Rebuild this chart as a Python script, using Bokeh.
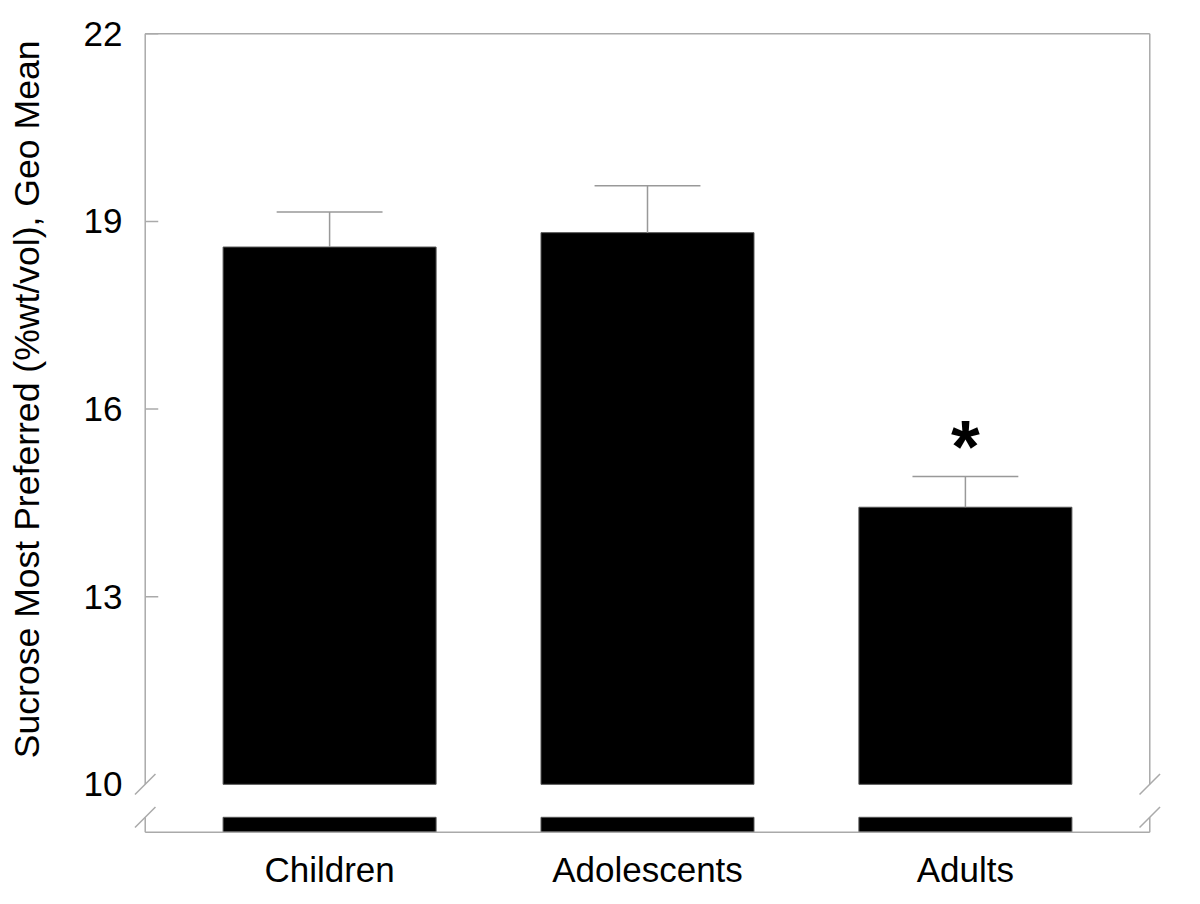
import math
from bokeh.plotting import figure
from bokeh.models import Range1d, FixedTicker, ColumnDataSource, Title
from bokeh.core.properties import value
from bokeh.embed import file_html
from bokeh.resources import INLINE

# ---- data ----
CATEGORIES = ["Children", "Adolescents", "Adults"]
MEANS = [18.59, 18.82, 14.43]
ERR_TOP = [19.15, 19.57, 14.92]
SIGNIF = ["", "", "*"]
Y_TICKS = [10, 13, 16, 19, 22]
Y_LABEL = "Sucrose Most Preferred (%wt/vol), Geo Mean"

# ---- axis geometry (broken axis) ----
X_LEFT, X_RIGHT = 0.42, 3.58
Y_BREAK = 10.0           # upper part starts here
Y_STUB_TOP = 9.473       # lower stub top
Y_BOTTOM = 9.233         # bottom axis line
Y_TOP = 22.0
BAR_W = 0.67
CAP_W = 0.333
TICK_LEN = 0.041

FONT = "Liberation Sans"
FRAME_COL = "#aaaaaa"

xs = list(range(1, len(CATEGORIES) + 1))

p = figure(width=1184, height=892, output_backend="svg", toolbar_location=None,
           x_range=Range1d(0.38, 3.62), y_range=Range1d(9.15, 22.1),
           frame_width=1030, frame_height=810,
           min_border_left=132, min_border_right=22, min_border_top=27, min_border_bottom=55)
p.outline_line_color = None
p.xgrid.visible = False
p.ygrid.visible = False
p.background_fill_color = "white"
p.border_fill_color = "white"

# bars (upper part) and lower stubs
src = ColumnDataSource(dict(x=xs, top=MEANS, err=ERR_TOP,
                            sig=SIGNIF, cat=CATEGORIES))
p.vbar(x="x", top="top", bottom=Y_BREAK, width=BAR_W, source=src,
       fill_color="black", line_color="#555555", line_width=1)
p.vbar(x="x", top=Y_STUB_TOP, bottom=Y_BOTTOM, width=BAR_W, source=src,
       fill_color="black", line_color="#555555", line_width=1)

# error bars (upper only)
p.segment(x0="x", y0="top", x1="x", y1="err", source=src,
          line_color="#999999", line_width=1.5)
p.segment(x0=[x - CAP_W / 2 for x in xs], y0=ERR_TOP,
          x1=[x + CAP_W / 2 for x in xs], y1=ERR_TOP,
          line_color="#999999", line_width=1.5)

# significance marker
p.text(x="x", y="err", text="sig", source=src, text_align="center",
       text_baseline="alphabetic", y_offset=-30, text_font=value(FONT),
       text_font_style="bold", text_font_size="74px", text_color="black")

# frame lines with breaks
fx0 = [X_LEFT, X_LEFT, X_LEFT, X_LEFT, X_RIGHT, X_RIGHT]
fy0 = [Y_TOP, Y_BOTTOM, Y_BREAK, Y_BOTTOM, Y_BREAK, Y_BOTTOM]
fx1 = [X_RIGHT, X_RIGHT, X_LEFT, X_LEFT, X_RIGHT, X_RIGHT]
fy1 = [Y_TOP, Y_BOTTOM, Y_TOP, Y_STUB_TOP, Y_TOP, Y_STUB_TOP]
p.segment(x0=fx0, y0=fy0, x1=fx1, y1=fy1, line_color=FRAME_COL, line_width=1.5)

# inward tick marks on left axis
inner = [t for t in Y_TICKS if t > Y_TICKS[0]]
p.segment(x0=[X_LEFT] * len(inner), y0=inner, x1=[X_LEFT + TICK_LEN] * len(inner), y1=inner,
          line_color=FRAME_COL, line_width=1.5)

# break marks
p.scatter(x=[X_LEFT, X_LEFT, X_RIGHT, X_RIGHT], y=[Y_BREAK, Y_STUB_TOP, Y_BREAK, Y_STUB_TOP],
          marker="dash", size=29, angle=math.pi / 4, line_color=FRAME_COL, line_width=1.5)

# axes
p.yaxis.ticker = FixedTicker(ticks=Y_TICKS)
p.yaxis.axis_line_color = None
p.yaxis.major_tick_line_color = None
p.yaxis.minor_tick_line_color = None
p.yaxis.major_tick_out = 0
p.yaxis.major_tick_in = 0
p.yaxis.major_label_text_font = FONT
p.yaxis.major_label_text_font_size = "35px"
p.yaxis.major_label_text_color = "black"
p.yaxis.major_label_standoff = 10

p.xaxis.ticker = FixedTicker(ticks=xs)
p.xaxis.major_label_overrides = {x: c for x, c in zip(xs, CATEGORIES)}
p.xaxis.axis_line_color = None
p.xaxis.major_tick_line_color = None
p.xaxis.minor_tick_line_color = None
p.xaxis.major_tick_out = 0
p.xaxis.major_tick_in = 0
p.xaxis.major_label_text_font = FONT
p.xaxis.major_label_text_font_size = "35px"
p.xaxis.major_label_text_color = "black"
p.xaxis.major_label_standoff = 12

# y axis title, aligned towards the top of the axis
p.add_layout(Title(text=Y_LABEL, align="right", offset=13, standoff=0,
                   padding=dict(left=0, right=0, top=0, bottom=34),
                   text_font=FONT, text_font_size="35.6px", text_font_style="normal",
                   text_color="black"), "left")

open("out.html", "w").write(file_html(p, INLINE))
